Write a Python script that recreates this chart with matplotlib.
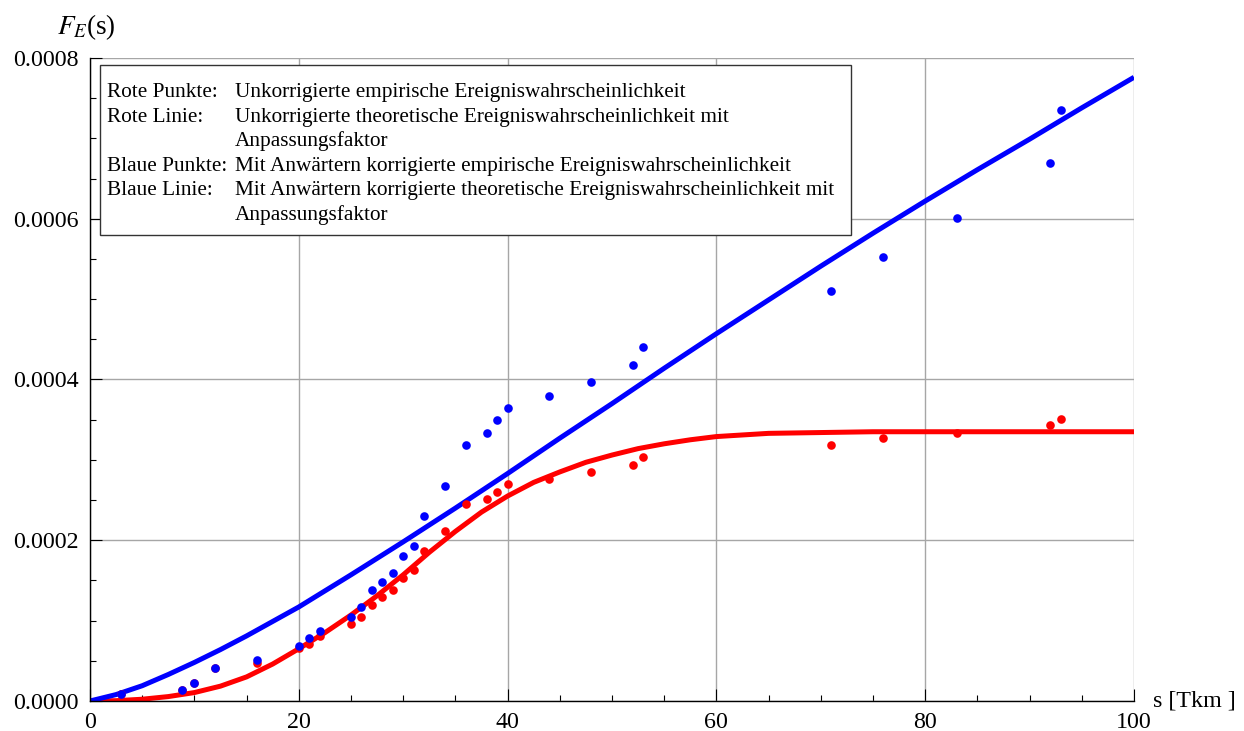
import numpy as np
import matplotlib
matplotlib.use("Agg")
import matplotlib.pyplot as plt
from matplotlib.ticker import MultipleLocator, FuncFormatter
from matplotlib.patches import Rectangle

# --- data -------------------------------------------------------------
# empirical event probabilities (units of 1e-4)
s_points = [3, 8.8, 10, 12, 16, 20, 21, 22, 25, 26, 27, 28, 29, 30, 31, 32, 34,
            36, 38, 39, 40, 44, 48, 52, 53, 71, 76, 83, 92, 93]
red_points = [0.087, 0.137, 0.228, 0.41, 0.469, 0.656, 0.71, 0.805, 0.958, 1.05,
              1.198, 1.294, 1.385, 1.534, 1.63, 1.87, 2.115, 2.45, 2.51, 2.60,
              2.70, 2.76, 2.85, 2.94, 3.03, 3.18, 3.27, 3.33, 3.43, 3.51]
blue_points = [0.087, 0.137, 0.228, 0.41, 0.506, 0.69, 0.78, 0.87, 1.05, 1.166,
               1.385, 1.477, 1.597, 1.81, 1.93, 2.30, 2.67, 3.18, 3.33, 3.49,
               3.64, 3.79, 3.97, 4.18, 4.40, 5.10, 5.53, 6.01, 6.69, 7.35]

# theoretical curves with adjustment factor (units of 1e-4)
s_red_curve = [0, 2.5, 5, 7.5, 10, 12.5, 15, 17.5, 20, 22.5, 25, 27.5, 30, 32.5,
               35, 37.5, 40, 42.5, 45, 47.5, 50, 52.5, 55, 57.5, 60, 65, 70, 75,
               80, 90, 100]
red_curve = [0, 0.004, 0.022, 0.055, 0.105, 0.185, 0.30, 0.46, 0.65, 0.85, 1.07,
             1.31, 1.57, 1.85, 2.11, 2.35, 2.55, 2.72, 2.85, 2.97, 3.06, 3.14,
             3.20, 3.25, 3.29, 3.33, 3.34, 3.35, 3.35, 3.35, 3.35]
s_blue_curve = [0, 2.5, 5, 7.5, 10, 12.5, 15, 17.5, 20, 25, 30, 35, 40, 45, 50,
                55, 60, 65, 70, 75, 80, 85, 90, 95, 100]
blue_curve = [0, 0.08, 0.19, 0.33, 0.48, 0.64, 0.81, 0.99, 1.17, 1.57, 1.98, 2.40,
              2.83, 3.27, 3.70, 4.14, 4.57, 4.99, 5.41, 5.82, 6.22, 6.61, 6.99,
              7.38, 7.76]

legend_keys = ["Rote Punkte:", "Rote Linie:", "", "Blaue Punkte:", "Blaue Linie:", ""]
legend_texts = [
    "Unkorrigierte empirische Ereigniswahrscheinlichkeit",
    "Unkorrigierte theoretische Ereigniswahrscheinlichkeit mit",
    "Anpassungsfaktor",
    "Mit Anwärtern korrigierte empirische Ereigniswahrscheinlichkeit",
    "Mit Anwärtern korrigierte theoretische Ereigniswahrscheinlichkeit mit",
    "Anpassungsfaktor",
]

SCALE = 1e-4

# --- style ------------------------------------------------------------
plt.rcParams["font.family"] = ["Liberation Serif", "DejaVu Serif"]
plt.rcParams["mathtext.fontset"] = "stix"

W, H = 1244, 731
fig = plt.figure(figsize=(W / 100, H / 100), dpi=100)
fig.patch.set_facecolor("white")


def fx(px):
    return px / W


def fy(py):
    return 1 - py / H


ax = fig.add_axes([fx(90), fy(701), (1134 - 90) / W, (701 - 58) / H])

RED = "#ff0000"
BLUE = "#0000ff"

ax.plot(s_red_curve, np.array(red_curve) * SCALE, color=RED, lw=3.6,
        solid_capstyle="butt", solid_joinstyle="round", zorder=3)
ax.plot(s_blue_curve, np.array(blue_curve) * SCALE, color=BLUE, lw=3.6,
        solid_capstyle="butt", solid_joinstyle="round", zorder=3)
ax.plot(s_points, np.array(red_points) * SCALE, "o", color=RED, ms=6.2,
        mec="none", zorder=4)
ax.plot(s_points, np.array(blue_points) * SCALE, "o", color=BLUE, ms=6.2,
        mec="none", zorder=5)

ax.set_xlim(0, 100)
ax.set_ylim(0, 0.0008)

ax.xaxis.set_major_locator(MultipleLocator(20))
ax.xaxis.set_minor_locator(MultipleLocator(5))
ax.yaxis.set_major_locator(MultipleLocator(0.0002))
ax.yaxis.set_minor_locator(MultipleLocator(0.00005))
ax.yaxis.set_major_formatter(FuncFormatter(lambda v, p: f"{v:.4f}"))
ax.xaxis.set_major_formatter(FuncFormatter(lambda v, p: f"{v:.0f}"))

ax.tick_params(which="both", direction="in", width=0.8, color="black",
               labelsize=17.3)
ax.tick_params(which="major", length=8.5)
ax.tick_params(which="minor", length=4.5)
ax.tick_params(axis="y", which="major", pad=8)
ax.tick_params(axis="x", which="major", pad=8)

ax.grid(True, which="major", color="#a6a6a6", lw=1.0, zorder=1)
ax.set_axisbelow(True)
for side in ("top", "right"):
    ax.spines[side].set_visible(False)
for side in ("left", "bottom"):
    ax.spines[side].set_linewidth(1.0)
    ax.spines[side].set_color("black")
    ax.spines[side].set_zorder(6)

# axis titles
fig.text(fx(57), fy(34), r"$F_E$(s)", fontsize=19.5, ha="left", va="baseline")
fig.text(fx(1153), fy(706), "s [Tkm ]", fontsize=17.3, ha="left", va="baseline")

# explanation box
box = Rectangle((fx(100), fy(235)), fx(851) - fx(100), fy(65) - fy(235),
                transform=fig.transFigure, facecolor="white",
                edgecolor="#333333", lw=1.0, zorder=10)
fig.patches.append(box)

row_baselines = [97, 121.6, 146.2, 170.8, 195.4, 220]
for key, txt, by in zip(legend_keys, legend_texts, row_baselines):
    if key:
        fig.text(fx(107), fy(by), key, fontsize=15.3, ha="left",
                 va="baseline", zorder=11)
    fig.text(fx(235), fy(by), txt, fontsize=15.3, ha="left", va="baseline",
             zorder=11)

fig.savefig("out.png", dpi=100)
